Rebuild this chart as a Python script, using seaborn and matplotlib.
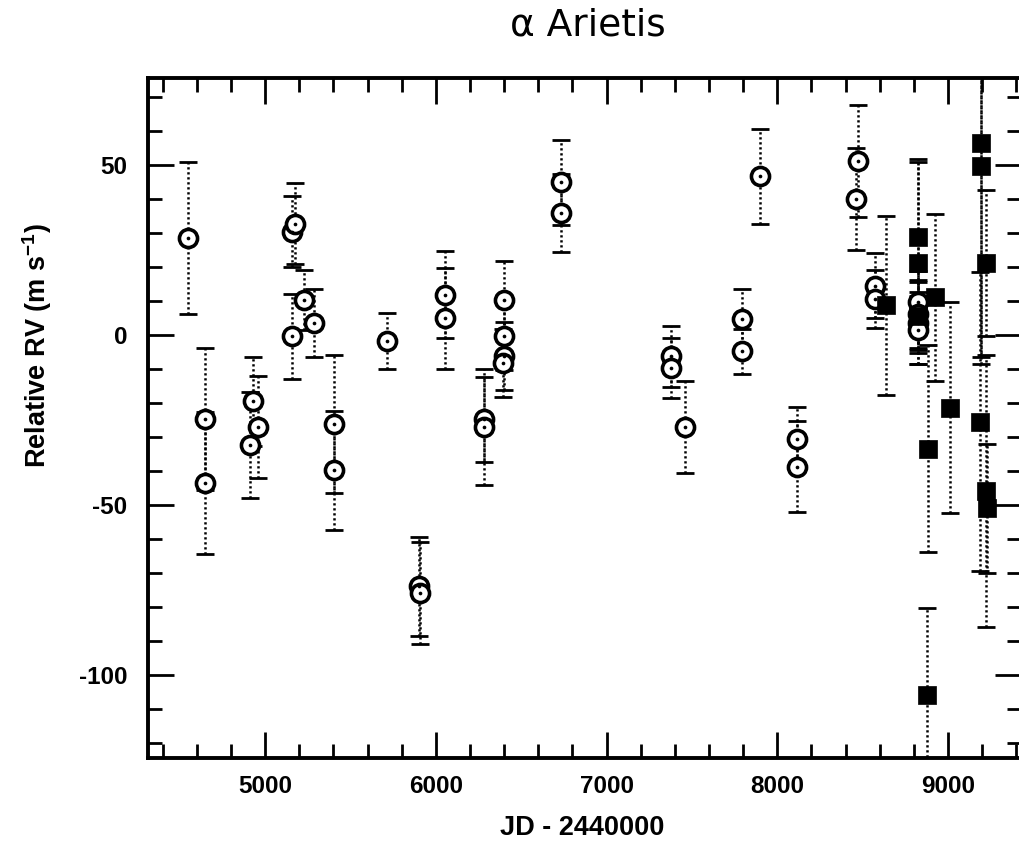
import matplotlib
matplotlib.use("Agg")
import matplotlib.pyplot as plt
import seaborn as sns
import pandas as pd
from matplotlib.ticker import MultipleLocator

# ---- data ----
circ_jd = [4549, 4647, 4650, 4912, 4931, 4961, 5157, 5176, 5157, 5225, 5284,
           5402, 5402, 5716, 5902, 5905, 6053, 6053, 6284, 6284,
           6400, 6400, 6400, 6395, 6735, 6735, 7380, 7380, 7460,
           7796, 7796, 7900, 8118, 8118, 8471, 8461, 8575, 8570,
           8825, 8825, 8825, 8825]
circ_rv = [28.4, -24.8, -43.6, -32.4, -19.6, -27.2, 30.3, 32.7, -0.5, 10.3, 3.4,
           -26.2, -39.9, -1.9, -74.0, -76.0, 11.8, 4.8, -24.8, -27.2,
           10.1, -0.5, -6.4, -8.3, 44.9, 35.8, -6.4, -9.8, -27.2,
           4.6, -4.9, 46.6, -30.7, -38.8, 51.0, 40.0, 14.4, 10.5,
           9.7, 6.0, 3.5, 1.4]
circ_err = [22.4, 21.0, 21.0, 15.5, 13.0, 15.0, 10.5, 12.0, 12.5, 8.8, 10.0,
            20.3, 17.5, 8.2, 14.5, 15.0, 12.7, 14.8, 12.5, 17.0,
            11.5, 10.0, 10.0, 10.0, 12.5, 11.6, 8.9, 8.8, 13.5,
            8.8, 6.6, 14.0, 9.5, 13.4, 16.5, 15.0, 9.5, 8.6,
            9.0, 10.0, 9.0, 10.0]

sq_jd = [8640, 8825, 8825, 8825, 8925, 8884, 9010, 8880,
         9196, 9192, 9225, 9188, 9222, 9226]
sq_rv = [8.6, 28.7, 21.1, 5.5, 11.0, -33.5, -21.5, -106.0,
         56.5, 49.5, 21.1, -25.6, -46.0, -51.0]
sq_err = [26.2, 23.0, 29.7, 10.0, 24.5, 30.5, 31.0, 25.5,
          65.0, 56.0, 21.5, 44.0, 40.0, 19.0]

title = "\u03b1 Arietis"
xlabel = "JD - 2440000"
ylabel = "Relative RV (m s$^{\\mathbf{-1}}$)"

circ_df = pd.DataFrame({"jd": circ_jd, "rv": circ_rv, "err": circ_err})
sq_df = pd.DataFrame({"jd": sq_jd, "rv": sq_rv, "err": sq_err})

sns.set_style("ticks")
plt.rcParams["font.family"] = ["Liberation Sans", "DejaVu Sans"]
plt.rcParams["mathtext.fontset"] = "custom"
plt.rcParams["mathtext.rm"] = "Liberation Sans"
plt.rcParams["mathtext.bf"] = "Liberation Sans:bold"
plt.rcParams["axes.unicode_minus"] = False
for key in ["text.color", "axes.labelcolor", "xtick.color", "ytick.color",
            "xtick.labelcolor", "ytick.labelcolor"]:
    plt.rcParams[key] = "black"

fig = plt.figure(figsize=(10.19, 8.42), dpi=100)
ax = fig.add_axes([148 / 1019, 84 / 842, 873 / 1019, 680 / 842])


def draw_err(df):
    eb = ax.errorbar(df["jd"], df["rv"], yerr=df["err"], fmt="none",
                     ecolor="black", elinewidth=1.8, capsize=6.5,
                     capthick=2.0, zorder=2)
    for lc in eb[2]:
        lc.set_linestyle((0, (0.9, 1.1)))
    return eb


draw_err(circ_df)
draw_err(sq_df)

sns.scatterplot(data=circ_df, x="jd", y="rv", marker="o", s=170,
                facecolor="white", edgecolor="black", linewidth=2.6,
                ax=ax, zorder=3, legend=False)
sns.scatterplot(data=circ_df, x="jd", y="rv", marker="o", s=7,
                color="black", linewidth=0, ax=ax, zorder=4, legend=False)
sns.scatterplot(data=sq_df, x="jd", y="rv", marker="s", s=175,
                color="black", edgecolor="black", linewidth=0.5,
                ax=ax, zorder=3, legend=False)

ax.set_xlim(4314, 9428)
ax.set_ylim(-124.5, 75.5)
ax.xaxis.set_major_locator(MultipleLocator(1000))
ax.xaxis.set_minor_locator(MultipleLocator(200))
ax.yaxis.set_major_locator(MultipleLocator(50))
ax.yaxis.set_minor_locator(MultipleLocator(10))
ax.tick_params(which="both", direction="in", top=True, right=True,
               color="black", width=2.0)
ax.tick_params(which="major", length=19, labelsize=17.5)
ax.tick_params(axis="x", which="major", pad=12)
ax.tick_params(axis="y", which="major", pad=15)
ax.tick_params(which="minor", length=10)
for lab in ax.get_xticklabels() + ax.get_yticklabels():
    lab.set_fontweight("bold")
for sp in ax.spines.values():
    sp.set_linewidth(2.8)
    sp.set_color("black")

ax.set_xlabel(xlabel, fontsize=19.5, fontweight="bold")
ax.xaxis.set_label_coords((582 - 148) / 873, -(828 - 758) / 680)
ax.set_ylabel(ylabel, fontsize=19.5, fontweight="bold")
ax.yaxis.set_label_coords((37 - 148) / 873, (758 - 346) / 680)
ax.xaxis.label.set_verticalalignment("center")
ax.yaxis.label.set_verticalalignment("center")
fig.text(588 / 1019, 1 - 25 / 842, title, fontsize=27, ha="center",
         va="center", family=["DejaVu Sans"])

fig.savefig("out.png", dpi=100, facecolor="white")
